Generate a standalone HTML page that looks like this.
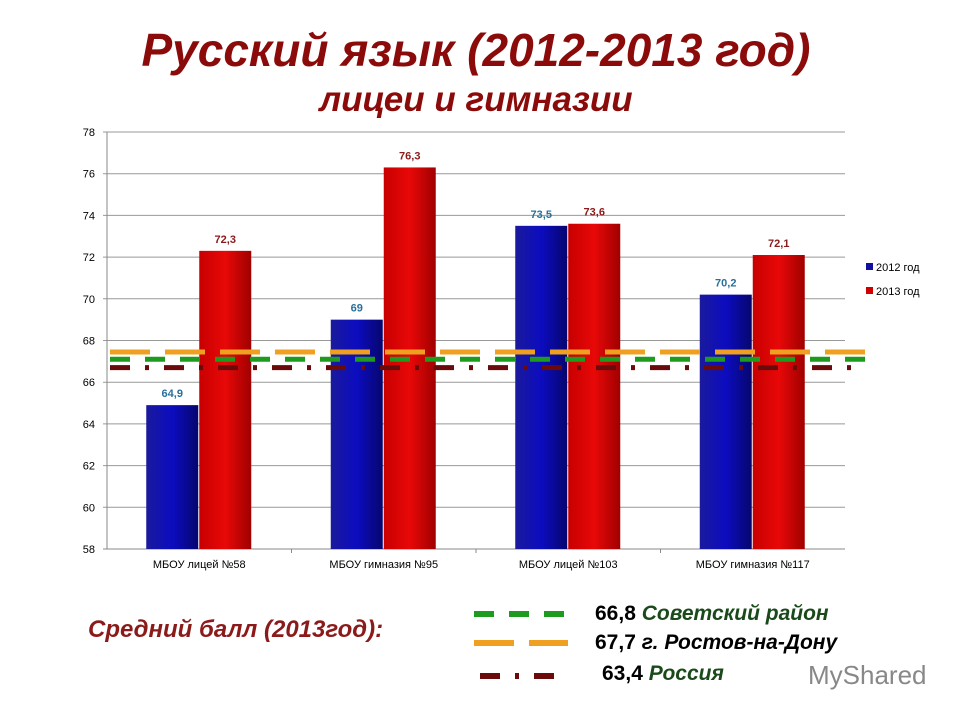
<!DOCTYPE html>
<html><head><meta charset="utf-8"><style>
body{margin:0;background:#fff;width:960px;height:720px;overflow:hidden;font-family:"Liberation Sans",sans-serif;}
svg text{font-family:"Liberation Sans","DejaVu Sans",sans-serif;}
</style></head><body>
<svg id="chart" width="960" height="720">
<defs>
<linearGradient id="gb" x1="0" x2="1"><stop offset="0" stop-color="#1a1a9c"/><stop offset="0.5" stop-color="#0c0cc0"/><stop offset="1" stop-color="#06066e"/></linearGradient>
<linearGradient id="gr" x1="0" x2="1"><stop offset="0" stop-color="#c80000"/><stop offset="0.5" stop-color="#e80808"/><stop offset="1" stop-color="#a00000"/></linearGradient>
</defs>
<text x="476" y="66" text-anchor="middle" font-size="46" font-weight="bold" font-style="italic" fill="#8b0a0a">Русский язык (2012-2013 год)</text>
<text x="476" y="111" text-anchor="middle" font-size="35" font-weight="bold" font-style="italic" fill="#8b0a0a">лицеи и гимназии</text>
<g id="grid"></g><g id="bars"></g><g id="lines"></g>
<rect x="866" y="263" width="7" height="7" fill="#1010a0"/>
<text x="876" y="271" font-size="11">2012 год</text>
<rect x="866" y="287" width="7" height="7" fill="#d00000"/>
<text x="876" y="295" font-size="11">2013 год</text>
<text x="88" y="637" font-size="24" font-style="italic" font-weight="bold" fill="#8b1a1a">Средний балл (2013год):</text>
<line x1="474" y1="614" x2="565" y2="614" stroke="#1e9a1e" stroke-width="6" stroke-dasharray="20,15"/>
<line x1="474" y1="643" x2="568" y2="643" stroke="#f0a020" stroke-width="6" stroke-dasharray="40,15"/>
<line x1="480" y1="676" x2="556" y2="676" stroke="#6b0a0a" stroke-width="6" stroke-dasharray="20,15,4,15"/>
<text x="595" y="620" font-size="21" font-weight="bold">66,8 <tspan font-style="italic" fill="#1a4a1a">Советский район</tspan></text>
<text x="595" y="649" font-size="21" font-weight="bold">67,7 <tspan font-style="italic">г. Ростов-на-Дону</tspan></text>
<text x="602" y="680" font-size="21" font-weight="bold">63,4 <tspan font-style="italic" fill="#1a4a1a">Россия</tspan></text>
<text x="808" y="684" font-size="26" fill="#888">MyShared</text>
</svg>
<script>
const categories=["МБОУ лицей №58","МБОУ гимназия №95","МБОУ лицей №103","МБОУ гимназия №117"];
const s2012=[64.9,69,73.5,70.2];
const s2012Labels=["64,9","69","73,5","70,2"];
const s2013=[72.3,76.3,73.6,72.1];
const s2013Labels=["72,3","76,3","73,6","72,1"];
const yTicks=[58,60,62,64,66,68,70,72,74,76,78];
const refValues=[67.45,67.1,66.7];
const NS="http://www.w3.org/2000/svg";
const X0=107,X1=845,Y0=549,Y1=132,ymin=58,ymax=78;
const y=v=>Y0-(v-ymin)/(ymax-ymin)*(Y0-Y1);
const gw=(X1-X0)/categories.length;
const xc=i=>X0+gw*(i+0.5);
function mk(t,a,p){const e=document.createElementNS(NS,t);for(const k in a)e.setAttribute(k,a[k]);p.appendChild(e);return e;}
const grid=document.getElementById('grid'),bars=document.getElementById('bars'),lines=document.getElementById('lines');
yTicks.forEach(t=>{
 const l=mk('line',{x1:X0-4,x2:X1,y1:y(t),y2:y(t),stroke:t==58?'#888':'#999','stroke-width':1},grid);
 
 
 const tx=mk('text',{x:X0-12,y:y(t)+4,'text-anchor':'end','font-size':11},grid);tx.textContent=t;
 
 
});
const ax=mk('line',{x1:X0,x2:X0,y1:Y1,y2:Y0,stroke:'#888'},grid);


const bw=52;
categories.forEach((c,i)=>{
 const cx=xc(i);
 const b1=mk('rect',{x:cx-bw-1,y:y(s2012[i]),width:bw,height:Y0-y(s2012[i]),fill:'url(#gb)'},bars);
 
 
 const b2=mk('rect',{x:cx,y:y(s2013[i]),width:bw,height:Y0-y(s2013[i]),fill:'url(#gr)'},bars);
 
 
 const t1=mk('text',{x:cx-bw/2-1,y:y(s2012[i])-8,'text-anchor':'middle','font-size':11,'font-weight':'bold',fill:'#2a6f9a'},bars);t1.textContent=s2012Labels[i];
 
 
 const t2=mk('text',{x:cx+bw/2,y:y(s2013[i])-8,'text-anchor':'middle','font-size':11,'font-weight':'bold',fill:'#8b1a1a'},bars);t2.textContent=s2013Labels[i];
 
 
 const xl=mk('text',{x:cx,y:568,'text-anchor':'middle','font-size':11},bars);xl.textContent=c;
 
 
 if(i>0){const tk=mk('line',{x1:X0+gw*i,x2:X0+gw*i,y1:Y0,y2:Y0+4,stroke:'#888'},grid);
 
 }
});
const styles=[['#f0a020','40,15'],['#1e9a1e','20,15'],['#6b0a0a','20,15,4,15']];
const names=['ref-line-city','ref-line-district','ref-line-russia'];
refValues.forEach((v,i)=>{
 const l=mk('line',{x1:110,x2:866,y1:y(v),y2:y(v),stroke:styles[i][0],'stroke-width':5,'stroke-dasharray':styles[i][1]},lines);
 
 
});
</script>
</body></html>
